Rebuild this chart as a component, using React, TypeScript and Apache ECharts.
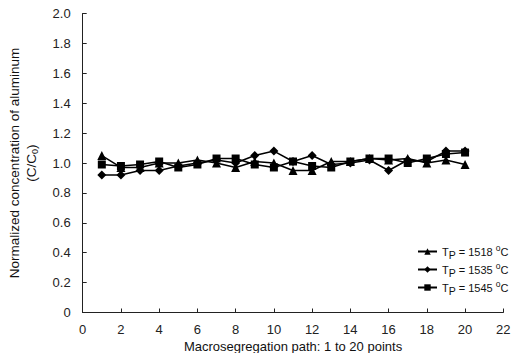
import React, { useEffect, useRef } from "react";
import * as echarts from "echarts";

const points = [1, 2, 3, 4, 5, 6, 7, 8, 9, 10, 11, 12, 13, 14, 15, 16, 17, 18, 19, 20];
const t1518 = [1.05, 0.97, 0.97, 1.0, 1.0, 1.02, 1.0, 0.97, 1.01, 1.0, 0.95, 0.95, 1.01, 1.01, 1.03, 1.02, 1.03, 1.0, 1.02, 0.99];
const t1535 = [0.92, 0.92, 0.95, 0.95, 0.98, 1.0, 1.02, 1.0, 1.05, 1.08, 1.01, 1.05, 0.99, 1.0, 1.02, 0.95, 1.02, 1.01, 1.08, 1.08];
const t1545 = [0.99, 0.98, 0.99, 1.01, 0.97, 0.99, 1.03, 1.03, 0.99, 0.97, 1.01, 0.98, 0.97, 1.01, 1.03, 1.03, 1.0, 1.03, 1.06, 1.07];
const seriesNames = ["1518", "1535", "1545"];
const symbols = ["triangle", "diamond", "rect"];

const FONT = "Liberation Sans, Arial, sans-serif";

export default function App() {
  const ref = useRef<HTMLDivElement>(null);
  useEffect(() => {
    if (!ref.current) return;
    document.body.style.margin = "0";
    const chart = echarts.init(ref.current, undefined, { renderer: "svg" });
    const data = [t1518, t1535, t1545];
    const sizes = [9, 9, 8];
    chart.setOption({
      animation: false,
      textStyle: { fontFamily: FONT },
      grid: { left: 82.7, right: 16.7, top: 13.5, bottom: 40.5, containLabel: false, outerBoundsMode: "none" },
      legend: {
        orient: "vertical",
        left: 412,
        top: 238,
        itemWidth: 19,
        itemHeight: 8,
        itemGap: 1,
        textStyle: {
          color: "#111",
          fontSize: 11,
          fontFamily: FONT,
          rich: {
            a: { fontSize: 11, color: "#111", fontFamily: FONT, lineHeight: 17, verticalAlign: "middle" },
            s: { fontSize: 10.5, color: "#111", fontFamily: FONT, lineHeight: 8, verticalAlign: "bottom" },
            u: { fontSize: 8.5, color: "#111", fontFamily: FONT, lineHeight: 9, verticalAlign: "top" },
          },
        },
        formatter: (name: string) => `{a|T}{s|P}{a| = ${name} }{u|o}{a|C}`,
        data: seriesNames,
      },
      xAxis: {
        type: "value",
        min: 0,
        max: 22,
        interval: 2,
        name: "Macrosegregation path: 1 to 20 points",
        nameLocation: "middle",
        nameGap: 22,
        nameTextStyle: { fontSize: 13, color: "#111", fontFamily: FONT },
        axisLine: { lineStyle: { color: "#222", width: 1 } },
        axisTick: { inside: true, length: 4, lineStyle: { color: "#222" } },
        axisLabel: { fontSize: 13, color: "#222", margin: 10, fontFamily: FONT },
        splitLine: { show: false },
      },
      yAxis: {
        type: "value",
        min: 0,
        max: 2,
        interval: 0.2,
        name: "Normalized concentration of aluminum\n{a|(C/C}{s|0}{a|)}",
        nameLocation: "middle",
        nameRotate: 90,
        nameGap: 43,
        nameTextStyle: {
          fontSize: 13.5,
          color: "#111",
          fontFamily: FONT,
          lineHeight: 17,
          rich: {
            a: { fontSize: 13.5, color: "#111", fontFamily: FONT, lineHeight: 17 },
            s: { fontSize: 9, color: "#111", fontFamily: FONT, lineHeight: 9, verticalAlign: "bottom" },
          },
        },
        axisLine: { show: true, lineStyle: { color: "#222", width: 1 } },
        axisTick: { show: true, inside: true, length: 4, lineStyle: { color: "#222" } },
        axisLabel: {
          fontSize: 13,
          color: "#222",
          margin: 12,
          fontFamily: FONT,
          formatter: (v: number) => (v === 0 ? "0" : v.toFixed(1)),
        },
        splitLine: { show: false },
      },
      series: seriesNames.map((n, i) => ({
        name: n,
        type: "line",
        data: points.map((x, j) => [x, data[i][j]]),
        symbol: symbols[i],
        symbolSize: sizes[i],
        showSymbol: true,
        lineStyle: { color: "#000", width: 1.5 },
        itemStyle: { color: "#000" },
        z: 3 - i,
      })),
    });
    return () => chart.dispose();
  }, []);
  return <div ref={ref} style={{ width: 520, height: 353 }} />;
}
